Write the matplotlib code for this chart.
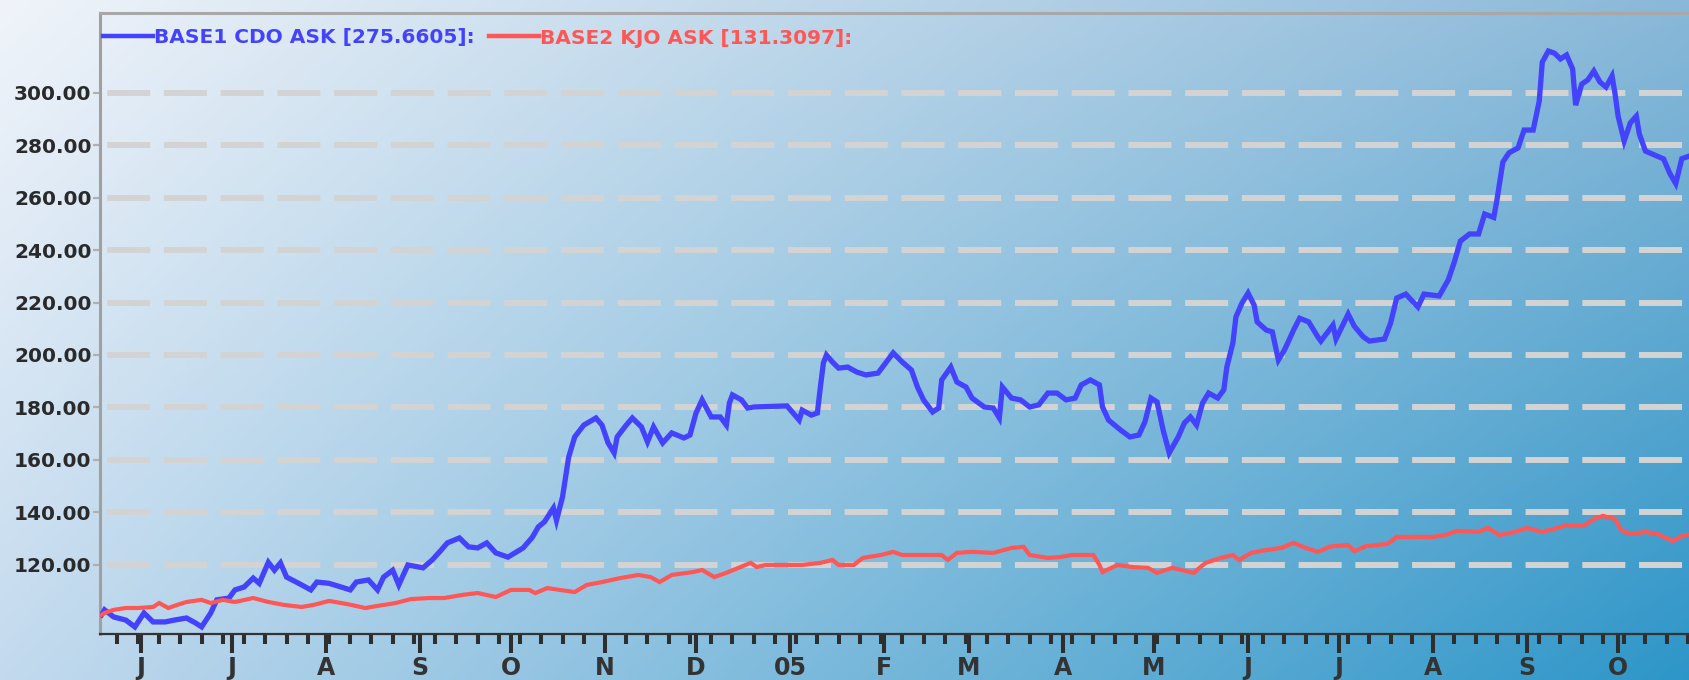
import numpy as np
import pandas as pd
import matplotlib
matplotlib.use("Agg")
import matplotlib.pyplot as plt
import matplotlib.dates as mdates
from matplotlib.ticker import FuncFormatter, FixedLocator
from matplotlib.lines import Line2D

# ---------------- data (days since 2004-06-01, values) ----------------
START = "2004-06-01"
blue_days = [-13, -12, -9, -5, -2, 1, 4, 8, 11, 15, 18, 20, 23, 25, 29, 31, 34, 37, 39, 42, 44, 46, 48, 52,
             56, 58, 62, 66, 69, 71, 75, 78, 80, 83, 85, 88, 93, 96, 99, 101, 105, 108, 111, 114, 117, 121,
             126, 129, 131, 133, 136, 137, 139, 140, 141, 143, 146, 150, 152, 154, 156, 157, 160, 162, 165,
             167, 169, 172, 175, 179, 181, 183, 185, 188, 191, 193, 194, 195, 198, 200, 202, 213, 215, 217,
             218, 221, 223, 224, 225, 226, 228, 230, 233, 236, 239, 243, 245, 248, 251, 254, 256, 258, 261,
             263, 264, 267, 269, 272, 274, 278, 281, 283, 284, 287, 290, 293, 296, 299, 302, 305, 308, 310,
             313, 316, 317, 319, 323, 326, 329, 331, 333, 335, 337, 339, 342, 344, 346, 348, 350, 352, 355,
             357, 358, 360, 361, 363, 365, 367, 368, 371, 373, 375, 377, 380, 382, 385, 388, 389, 393, 394,
             398, 400, 403, 405, 410, 412, 414, 417, 421, 423, 428, 431, 433, 435, 438, 441, 443, 446, 447,
             449, 451, 454, 456, 459, 461, 462, 464, 466, 468, 470, 472, 473, 475, 477, 479, 481, 483, 485,
             486, 487, 489, 491, 493, 494, 496, 499, 502, 504, 506, 508, 511]
blue_vals = [101.0, 102.9, 100.2, 99.0, 96.4, 101.7, 98.3, 98.3, 99.0, 99.8, 97.9, 96.4, 101.7, 106.7, 107.4,
             110.5, 111.6, 115.0, 113.0, 121.0, 118.0, 120.8, 115.4, 113.0, 110.5, 113.5, 113.0, 111.6, 110.5,
             113.5, 114.3, 110.5, 115.4, 118.0, 112.4, 120.0, 118.9, 121.9, 125.7, 128.4, 130.3, 126.9, 126.5,
             128.4, 124.6, 123.0, 126.5, 130.5, 134.5, 136.4, 141.7, 137.0, 146.0, 153.5, 161.0, 168.8, 173.3,
             176.0, 173.3, 166.5, 162.7, 168.8, 173.3, 176.0, 172.6, 166.9, 172.6, 166.5, 170.3, 168.4, 169.5,
             177.9, 182.9, 176.4, 176.4, 173.3, 181.7, 184.8, 182.9, 179.8, 180.2, 180.6, 177.9, 175.2, 179.0,
             177.1, 177.9, 187.8, 197.0, 200.0, 197.3, 195.0, 195.4, 193.5, 192.4, 193.1, 196.2, 200.8, 197.3,
             194.3, 187.8, 182.9, 178.3, 179.8, 190.5, 195.4, 189.7, 187.8, 183.6, 180.2, 179.8, 176.0, 187.8,
             183.6, 182.9, 180.2, 181.0, 185.5, 185.5, 182.9, 183.6, 188.6, 190.5, 188.6, 180.2, 175.2, 171.4,
             168.8, 169.5, 174.5, 183.6, 182.1, 171.4, 162.7, 168.8, 174.1, 176.4, 173.3, 181.7, 185.5, 183.6,
             186.7, 195.4, 204.6, 214.5, 219.8, 223.6, 219.0, 212.6, 209.5, 208.8, 198.1, 201.9, 209.5, 214.0,
             212.6, 206.9, 205.3, 211.4, 206.1, 215.6, 211.0, 206.9, 205.3, 206.1, 212.2, 221.7, 223.2, 218.3,
             223.2, 222.5, 228.6, 235.4, 243.4, 246.1, 246.1, 253.7, 252.4, 258.7, 273.5, 277.0, 278.9, 285.7,
             285.7, 296.8, 311.6, 315.8, 315.0, 312.8, 314.3, 309.0, 295.2, 303.2, 304.8, 308.2, 304.0, 302.1,
             306.3, 299.4, 291.0, 281.5, 288.4, 291.0, 284.2, 277.7, 276.2, 274.7, 269.3, 265.3, 274.8, 276.0]

red_days = [-13, -12, -9, -5, -1, 4, 6, 9, 12, 15, 20, 23, 27, 31, 37, 42, 47, 53, 57, 62, 68, 74, 78, 84,
            89, 95, 100, 106, 111, 117, 122, 128, 130, 134, 138, 143, 147, 152, 158, 164, 168, 171, 175, 182,
            185, 189, 193, 197, 201, 203, 206, 213, 218, 224, 228, 230, 235, 238, 244, 248, 251, 257, 264,
            266, 269, 274, 281, 287, 291, 293, 299, 303, 307, 314, 316, 317, 322, 327, 332, 335, 340, 347,
            351, 356, 360, 362, 366, 371, 376, 380, 384, 388, 392, 398, 400, 404, 411, 414, 426, 430, 434,
            441, 444, 448, 453, 457, 462, 467, 470, 476, 479, 482, 486, 488, 491, 496, 500, 505, 508, 511]
red_vals = [101.0, 101.7, 102.9, 103.6, 103.6, 104.0, 105.5, 103.6, 104.8, 105.9, 106.7, 105.5, 106.7, 105.9,
            107.4, 105.9, 104.8, 104.0, 104.8, 106.3, 105.1, 103.6, 104.4, 105.5, 107.0, 107.4, 107.4, 108.6,
            109.3, 107.8, 110.5, 110.5, 109.3, 111.2, 110.5, 109.7, 112.4, 113.5, 115.0, 116.2, 115.4, 113.5,
            116.2, 117.3, 118.1, 115.4, 117.0, 118.9, 120.8, 119.2, 120.0, 120.0, 120.0, 120.8, 121.9, 120.0,
            120.0, 122.7, 123.8, 125.0, 123.8, 123.8, 123.8, 121.9, 124.6, 125.0, 124.6, 126.5, 126.9, 123.8,
            122.7, 123.0, 123.8, 123.8, 120.0, 117.3, 120.0, 119.2, 118.9, 117.0, 118.9, 117.0, 120.8, 122.7,
            123.8, 121.9, 124.6, 125.7, 126.5, 128.4, 126.5, 125.0, 127.0, 127.6, 125.3, 127.2, 128.0, 130.7,
            130.7, 131.4, 133.0, 132.6, 134.1, 131.4, 132.6, 134.1, 132.6, 134.1, 135.2, 135.2, 137.5, 138.7,
            137.5, 133.3, 131.8, 132.6, 131.8, 129.1, 131.0, 131.8]

y_ticks = [120, 140, 160, 180, 200, 220, 240, 260, 280, 300]
legend_labels = ["BASE1 CDO ASK [275.6605]:", "BASE2 KJO ASK [131.3097]:"]

# ---------------- figure ----------------
W, H = 1690, 680
fig = plt.figure(figsize=(W / 100, H / 100), dpi=100)

# background gradient
bg = fig.add_axes([0, 0, 1, 1], zorder=-10)
tl = np.array([240, 244, 250]) / 255
tr = np.array([138, 184, 216]) / 255
bl = np.array([195, 218, 238]) / 255
br = np.array([45, 150, 200]) / 255
u = np.linspace(0, 1, 400)[None, :, None]
v = np.linspace(0, 1, 200)[:, None, None]
img = (1 - v) * ((1 - u) * tl + u * tr) + v * ((1 - u) * bl + u * br)
bg.imshow(img, aspect="auto", extent=[0, 1, 0, 1], origin="upper")
bg.set_axis_off()

ax = fig.add_axes([100 / W, 46 / H, 1590 / W, 621 / H])
ax.patch.set_alpha(0)

base = pd.Timestamp(START)
bdates = base + pd.to_timedelta(blue_days, unit="D")
rdates = base + pd.to_timedelta(red_days, unit="D")

blue_c = "#4242ff"
red_c = "#ff5656"
ax.plot(bdates, blue_vals, color=blue_c, lw=3.8, solid_joinstyle="miter", zorder=3)
ax.plot(rdates, red_vals, color=red_c, lw=3.0, solid_joinstyle="miter", zorder=4)

ax.set_xlim(base - pd.Timedelta(days=13.5), base + pd.Timedelta(days=510.7))
ax.set_ylim(93.7, 330.3)

# grid
ax.yaxis.set_major_locator(FixedLocator(y_ticks))
ax.yaxis.grid(True, color="#d3d3d3", lw=4.3, linestyle=(8.3, (7.2, 2.3)), zorder=1)
ax.set_axisbelow(True)
for gl in ax.get_ygridlines():
    gl.set_dash_capstyle("butt")

ax.yaxis.set_major_formatter(FuncFormatter(lambda val, p: f"{val:.2f}"))
ax.tick_params(axis="y", which="major", length=5, width=1.6, color="#b0b0b0", pad=1,
               labelsize=14.5, labelcolor="#2a2a2a")
for t in ax.get_yticklabels():
    t.set_fontweight("bold")

# x axis
ax.xaxis.set_major_locator(mdates.MonthLocator())
ax.xaxis.set_minor_locator(mdates.WeekdayLocator(byweekday=mdates.MO))


def mfmt(x, pos=None):
    d = mdates.num2date(x)
    if d.month == 1:
        return d.strftime("%y")
    return d.strftime("%b")[0]


ax.xaxis.set_major_formatter(FuncFormatter(mfmt))
ax.tick_params(axis="x", which="major", length=13.5, width=2.9, color="#2e2e2e", pad=2,
               labelsize=17, labelcolor="#333333")
ax.tick_params(axis="x", which="minor", length=7, width=2.9, color="#2e2e2e")
for t in ax.get_xticklabels():
    t.set_fontweight("bold")

# spines
ax.spines["right"].set_visible(False)
ax.spines["left"].set_color("#a0a0a0")
ax.spines["left"].set_linewidth(2.2)
ax.spines["top"].set_color("#a8a8a8")
ax.spines["top"].set_linewidth(2.2)
ax.spines["bottom"].set_color("#333333")
ax.spines["bottom"].set_linewidth(1.6)

# legend
handles = [Line2D([], [], color=blue_c, lw=3.2), Line2D([], [], color=red_c, lw=3.2)]
leg = ax.legend(handles, legend_labels, loc="center left", bbox_to_anchor=(103 / W, 1 - 38 / H),
                bbox_transform=fig.transFigure, ncol=2, frameon=False, handlelength=2.5,
                handletextpad=0.05, columnspacing=0.7, borderpad=0, borderaxespad=0,
                prop={"size": 14.5, "weight": "bold"})
for txt, c in zip(leg.get_texts(), [blue_c, red_c]):
    txt.set_color(c)

fig.savefig("out.png", dpi=100)
